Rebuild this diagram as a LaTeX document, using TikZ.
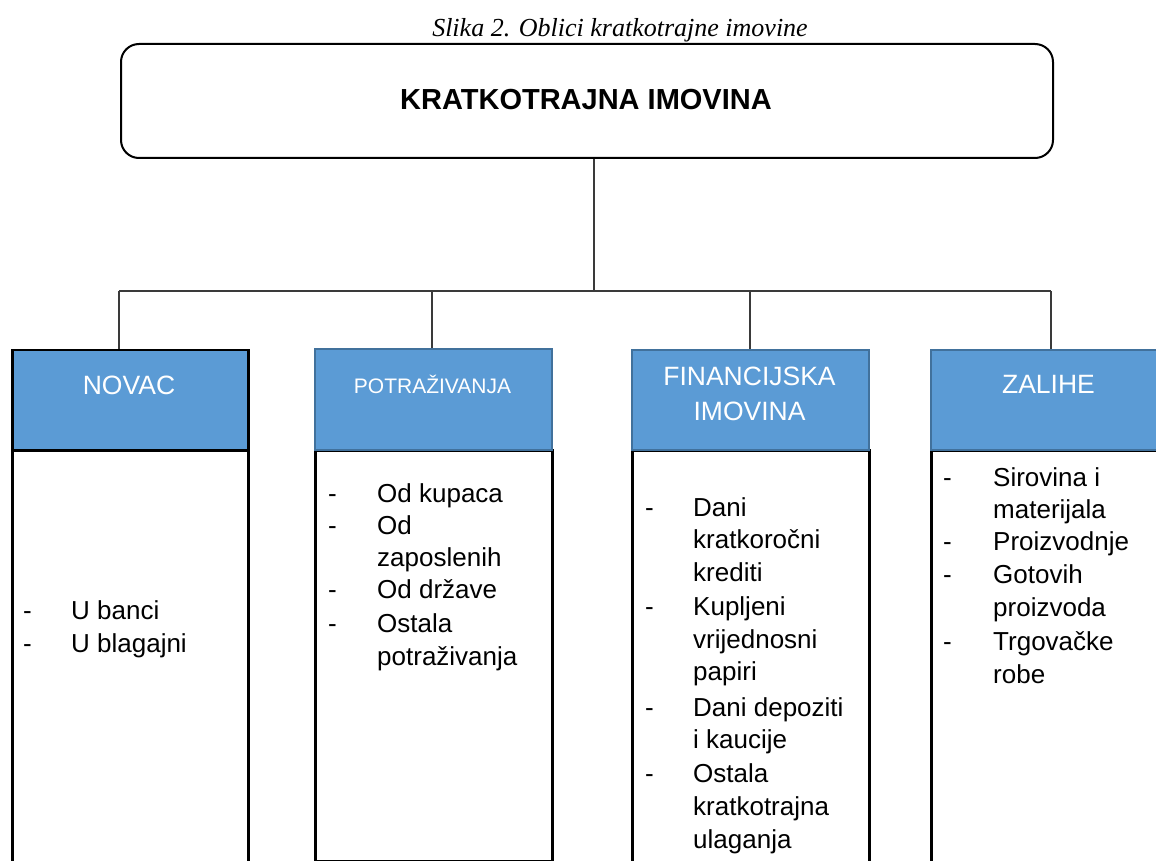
\documentclass[tikz,border=0pt]{standalone}
\usepackage{fontspec}
\setmainfont{Liberation Sans}
\newfontfamily\capfont{Liberation Serif}
\definecolor{hdrblue}{HTML}{5B9BD5}
\definecolor{hdrline}{HTML}{41719C}
\definecolor{conn}{HTML}{3A3A3A}
\tikzset{
  hdrbox/.style={draw=hdrline, fill=hdrblue, line width=2pt, anchor=north west, inner sep=0pt},
  bodybox/.style={draw=black, line width=2.5pt, anchor=north west, inner sep=0pt},
  hdrtxt/.style={anchor=base, inner sep=0pt, text=white, font=\fontsize{26.5}{34}\selectfont},
  itm/.style={anchor=base west, inner sep=0pt, font=\fontsize{26}{32}\selectfont},
  connline/.style={draw=conn, line width=1.3pt}
}
\begin{document}
\begin{tikzpicture}[x=1pt,y=-1pt]
\useasboundingbox (0,0) rectangle (1156,861);
\fill[white] (0,0) rectangle (1156,861);
% caption
\node[anchor=base, inner sep=0pt, font=\capfont\itshape\fontsize{26}{30}\selectfont] (cap) at (620,37) {Slika 2. Oblici kratkotrajne imovine};
% top box
\node[draw=black, line width=2pt, rounded corners=18pt, anchor=north west, minimum width=932pt, minimum height=114pt, inner sep=0pt] (top) at (120,43) {};
\node[anchor=base, inner sep=0pt, font=\bfseries\fontsize{29}{34}\selectfont] (toptxt) at (586,110) {KRATKOTRAJNA IMOVINA};
% connectors
\coordinate (hub) at (594,291);
\coordinate (c1) at (119,291);
\coordinate (c2) at (432,291);
\coordinate (c3) at (750,291);
\coordinate (c4) at (1051,291);
% bodies
\node[bodybox, minimum width=236pt, minimum height=430pt] (b1) at (11,449) {};
\node[bodybox, minimum width=237pt, minimum height=411pt] (b2) at (314,449) {};
\node[bodybox, minimum width=237pt, minimum height=430pt] (b3) at (631,449) {};
\node[bodybox, minimum width=260pt, minimum height=430pt] (b4) at (930,449) {};
% headers
\node[hdrbox, draw=black, line width=2.5pt, minimum width=236pt, minimum height=100pt] (h1) at (11,348.5) {};
\node[hdrbox, minimum width=237pt, minimum height=101pt] (h2) at (314,348) {};
\node[hdrbox, minimum width=237pt, minimum height=100pt] (h3) at (631,349) {};
\node[hdrbox, minimum width=260pt, minimum height=100pt] (h4) at (930,349) {};
\draw[connline] (hub |- top.south) -- (hub);
\draw[connline] (c1) -- (c4);
\draw[connline] (c1) -- (c1 |- h1.north);
\draw[connline] (c2) -- (c2 |- h2.north);
\draw[connline] (c3) -- (c3 |- h3.north);
\draw[connline] (c4) -- (c4 |- h4.north);
% header texts
\node[hdrtxt] (t1) at (129,394) {NOVAC};
\node[hdrtxt, font=\fontsize{21}{26}\selectfont] (t2) at (432.5,393) {POTRAŽIVANJA};
\node[hdrtxt] (t3a) at (749.5,385) {FINANCIJSKA};
\node[hdrtxt] (t3b) at (749.5,420) {IMOVINA};
\node[hdrtxt] (t4) at (1048.5,393) {ZALIHE};
% NOVAC items
\node[itm] (d11) at (23,619) {-};
\node[itm] (i11) at (71,619) {U banci};
\node[itm] (d12) at (23,652) {-};
\node[itm] (i12) at (71,652) {U blagajni};
% POTRAZIVANJA items
\node[itm] (d21) at (328,502) {-};
\node[itm] (i21) at (377,502) {Od kupaca};
\node[itm] (d22) at (328,534) {-};
\node[itm] (i22) at (377,534) {Od};
\node[itm] (i22b) at (377,566.5) {zaposlenih};
\node[itm] (d23) at (328,598.5) {-};
\node[itm] (i23) at (377,598.5) {Od države};
\node[itm] (d24) at (328,632.5) {-};
\node[itm] (i24) at (377,632.5) {Ostala};
\node[itm] (i24b) at (377,665) {potraživanja};
% FINANCIJSKA items
\node[itm] (d31) at (645,516) {-};
\node[itm] (i31) at (693,516) {Dani};
\node[itm] (i31b) at (693,548.5) {kratkoročni};
\node[itm] (i31c) at (693,581.5) {krediti};
\node[itm] (d32) at (645,615.5) {-};
\node[itm] (i32) at (693,615.5) {Kupljeni};
\node[itm] (i32b) at (693,648) {vrijednosni};
\node[itm] (i32c) at (693,680) {papiri};
\node[itm] (d33) at (645,716) {-};
\node[itm] (i33) at (693,716) {Dani depoziti};
\node[itm] (i33b) at (693,748.5) {i kaucije};
\node[itm] (d34) at (645,782.5) {-};
\node[itm] (i34) at (693,782.5) {Ostala};
\node[itm] (i34b) at (693,815) {kratkotrajna};
\node[itm] (i34c) at (693,848) {ulaganja};
% ZALIHE items
\node[itm] (d41) at (943,486.5) {-};
\node[itm] (i41) at (993,486.5) {Sirovina i};
\node[itm] (i41b) at (993,518.5) {materijala};
\node[itm] (d42) at (943,550.5) {-};
\node[itm] (i42) at (993,550.5) {Proizvodnje};
\node[itm] (d43) at (943,583.5) {-};
\node[itm] (i43) at (993,583.5) {Gotovih};
\node[itm] (i43b) at (993,616.5) {proizvoda};
\node[itm] (d44) at (943,650) {-};
\node[itm] (i44) at (993,650) {Trgovačke};
\node[itm] (i44b) at (993,683) {robe};
\end{tikzpicture}
\end{document}
